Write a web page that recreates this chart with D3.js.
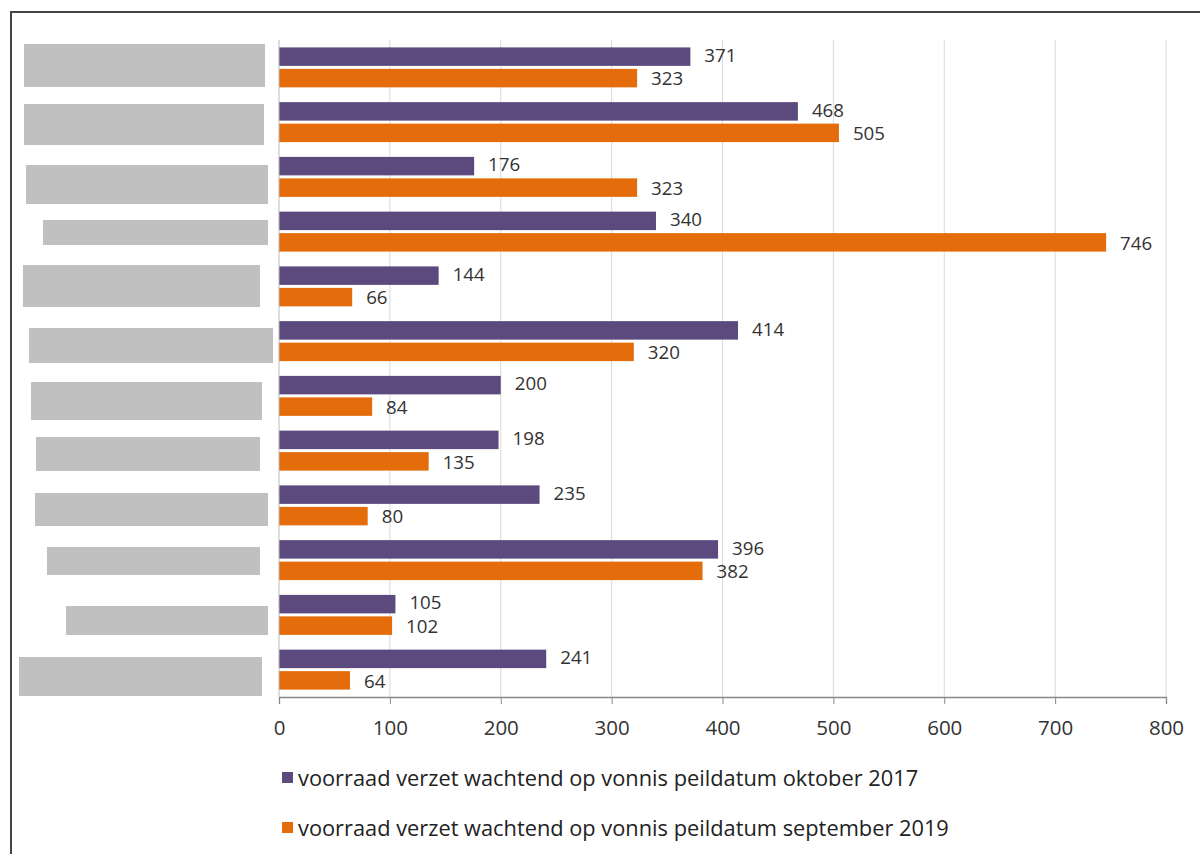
<!DOCTYPE html>
<html><head><meta charset="utf-8">
<script src="https://cdn.jsdelivr.net/npm/d3@7"></script>
<style>body{margin:0;background:#fff}svg{display:block}</style>
</head><body>
<svg id="c" width="1200" height="854"></svg>
<script>
// Data (category names are redacted in the reference)
const categories = ["c1","c2","c3","c4","c5","c6","c7","c8","c9","c10","c11","c12"];
const series2017 = [371,468,176,340,144,414,200,198,235,396,105,241];
const series2019 = [323,505,323,746,66,320,84,135,80,382,102,64];
const seriesNames = ["voorraad verzet wachtend op vonnis peildatum oktober 2017",
                     "voorraad verzet wachtend op vonnis peildatum september 2019"];
const xTicks = [0,100,200,300,400,500,600,700,800];
// redaction boxes (decoration): [x0, x1, y0, y1]
const redactions = [[24,265,44,87],[24,264,104,145],[26,268,165,204],[43,268,220,245],
  [23,260,265,307],[29,273,328,363],[31,262,382,420],[36,260,437,471],[35,268,493,526],
  [47,260,547,575],[66,268,606,635],[19,262,657,696]];

const colors = ["#5C4A7F","#E46C0A"];
const svg = d3.select("#c");
const font = "'Open Sans', 'DejaVu Sans', sans-serif";

// frame
svg.append("path").attr("d","M11,854 V12 H1200").attr("fill","none").attr("stroke","#444").attr("stroke-width",2);

const x0 = 279, x1 = 1166, yTop = 40, yBot = 697;
const x = d3.scaleLinear().domain([0,800]).range([x0,x1]);
const y = d3.scaleBand().domain(categories).range([yTop,yBot]).paddingInner(0.27).paddingOuter(0.135);
const ys = d3.scaleBand().domain([0,1]).range([0,y.bandwidth()]).paddingInner(0.14);

// gridlines
svg.append("g").selectAll("line").data(xTicks.slice(1)).join("line")
  .attr("x1",d=>x(d)).attr("x2",d=>x(d)).attr("y1",yTop).attr("y2",yBot)
  .attr("stroke","#d9d9d9").attr("stroke-width",1);

// redaction boxes
svg.append("g").selectAll("rect").data(redactions).join("rect")
  .attr("x",d=>d[0]).attr("y",d=>d[2]).attr("width",d=>d[1]-d[0]).attr("height",d=>d[3]-d[2])
  .attr("fill","#c0c0c0");

// bars
const data = [];
categories.forEach((c,i)=>{
  data.push({c, s:0, v:series2017[i]});
  data.push({c, s:1, v:series2019[i]});
});
svg.append("g").selectAll("rect").data(data).join("rect")
  .attr("x",x(0)).attr("y",d=>y(d.c)+ys(d.s)).attr("width",d=>x(d.v)-x(0)).attr("height",ys.bandwidth())
  .attr("fill",d=>colors[d.s]);
svg.append("g").selectAll("text").data(data).join("text")
  .attr("x",d=>x(d.v)+14).attr("y",d=>y(d.c)+ys(d.s)+ys.bandwidth()/2 + (d.s===0?-1:1))
  .attr("dy","0.36em").attr("font-family",font).attr("font-size",17.5).attr("fill","#333")
  .attr("textLength",d=>String(d.v).length*10.7).attr("lengthAdjust","spacingAndGlyphs")
  .text(d=>d.v);

// axis
const ax = svg.append("g").attr("transform",`translate(0,${yBot})`)
  .call(d3.axisBottom(x).tickValues(xTicks).tickSize(7).tickPadding(16));
ax.select(".domain").attr("stroke","#888").attr("stroke-width",1.3);
ax.selectAll(".tick line").attr("stroke","#888");
ax.selectAll(".tick text").attr("font-family",font).attr("font-size",20.5).attr("fill","#333");
// zero line
svg.append("line").attr("x1",x(0)).attr("x2",x(0)).attr("y1",yTop).attr("y2",yBot).attr("stroke","#bbb");

// legend
const lg = svg.append("g").selectAll("g").data(seriesNames).join("g")
  .attr("transform",(d,i)=>`translate(282,${778+i*50})`);
lg.append("rect").attr("x",0).attr("y",-6).attr("width",11).attr("height",11).attr("fill",(d,i)=>colors[i]);
lg.append("text").attr("x",16).attr("y",0).attr("dy","0.36em").attr("font-family",font)
  .attr("font-size",21.8).attr("fill","#222").text(d=>d);
</script>
</body></html>
